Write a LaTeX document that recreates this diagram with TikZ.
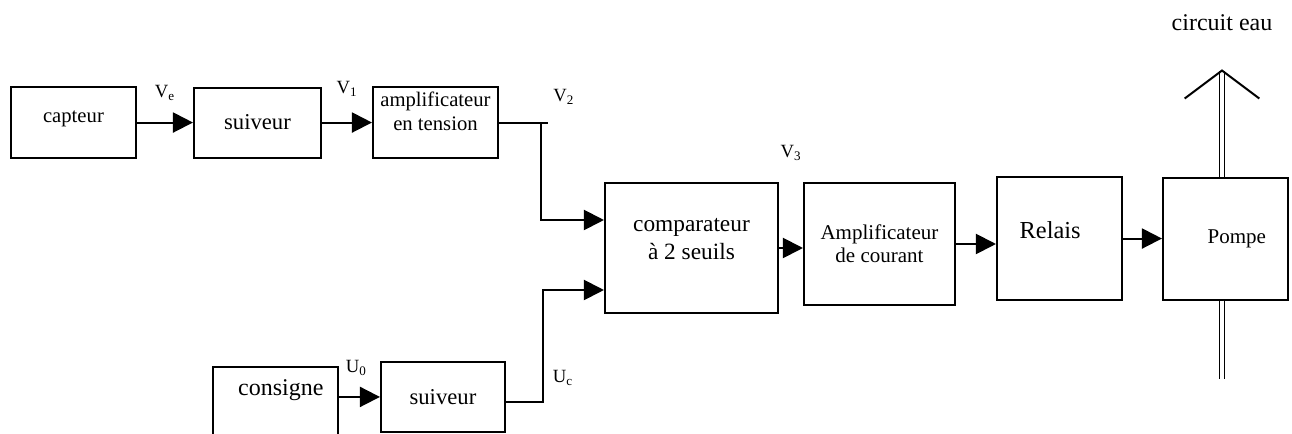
\documentclass[tikz,border=0pt]{standalone}
\usepackage{fontspec}
\setmainfont{Liberation Serif}
\usetikzlibrary{arrows.meta}
\tikzstyle{block} = [rectangle, draw, line width=1.5pt, align=center, inner sep=0pt]
\tikzstyle{line} = [draw, line width=1.5pt, -{Triangle[length=15pt,width=15pt]}]
\tikzstyle{wire} = [draw, line width=1.5pt]
\tikzstyle{sig} = [font=\fontsize{14}{16}\selectfont, inner sep=0pt]
\tikzstyle{pipe} = [draw, double, line width=1.1pt, double distance=2.5pt]

\begin{document}
\begin{tikzpicture}
    \useasboundingbox (0,0) rectangle (969pt,-325.5pt);
    % Place nodes
    \node [block, minimum width=93.75pt, minimum height=53.25pt, font=\fontsize{15.5}{18}\selectfont] (capteur) at (55.1pt,-91.9pt) {\raisebox{3pt}[\height][\depth]{capteur}};
    \node [block, node distance=138pt, right of=capteur, minimum width=95.25pt, minimum height=52.5pt, font=\fontsize{17}{20}\selectfont] (suiveur) {suiveur};
    \node [block, node distance=133.5pt, right of=suiveur, minimum width=93.75pt, minimum height=53.25pt, font=\fontsize{15.5}{18}\selectfont] (ampT) {\raisebox{6.75pt}[\height][\depth]{\begin{tabular}{@{}c@{}}amplificateur\\en tension\end{tabular}}};
    \node [block, node distance=192pt, right of=ampT, yshift=-94.1pt, minimum width=129.75pt, minimum height=97.5pt, font=\fontsize{17.5}{21}\selectfont] (comp) {\raisebox{6pt}[\height][\depth]{\begin{tabular}{@{}c@{}}comparateur\\à 2 seuils\end{tabular}}};
    \node [block, node distance=141pt, right of=comp, yshift=3pt, minimum width=113.25pt, minimum height=91.5pt, font=\fontsize{15.75}{17}\selectfont] (ampC) {Amplificateur\\de courant};
    \node [block, node distance=135pt, right of=ampC, yshift=4.1pt, minimum width=93.75pt, minimum height=92.25pt, font=\fontsize{18.3}{21}\selectfont] (relais) {\raisebox{6pt}[\height][\depth]{Relais}\hspace*{14pt}};
    \node [block, node distance=124.5pt, right of=relais, minimum width=93.75pt, minimum height=91.5pt, font=\fontsize{15.75}{18}\selectfont] (pompe) {\hspace*{17pt}Pompe};
    \node [block, node distance=210.7pt, below of=suiveur, xshift=13.5pt, minimum width=93.75pt, minimum height=55pt, font=\fontsize{18}{21}\selectfont] (consigne) {\hspace*{8pt}\raisebox{10pt}[\height][\depth]{consigne}};
    \node [block, node distance=125.6pt, right of=consigne, yshift=4.9pt, minimum width=93pt, minimum height=52.5pt, font=\fontsize{17}{20}\selectfont] (suiveurB) {suiveur};
    % Draw edges
    \path [line] (capteur) -- node [sig, yshift=22.5pt] (ve) {V\textsubscript{e}} (suiveur);
    \path [line] (suiveur) -- node [sig, yshift=25.5pt] (v1) {V\textsubscript{1}} (ampT);
    \coordinate (v2) at ([xshift=31.5pt]ampT.east);
    \path [wire] (ampT.east) -- ([xshift=5.25pt]v2);
    \node [sig] (v2lab) at ([xshift=17pt, yshift=19.5pt]v2) {V\textsubscript{2}};
    \path [line] (v2) |- ([yshift=21pt]comp.west);
    \coordinate (uc) at ([xshift=27.75pt, yshift=-3.75pt]suiveurB.east);
    \path [line] ([yshift=-3.75pt]suiveurB.east) -- (uc) |- ([yshift=-31.5pt]comp.west);
    \node [sig] (uclab) at ([xshift=15pt, yshift=18pt]uc) {U\textsubscript{c}};
    \path [line] (suiveurB.west -| consigne.east) -- node [sig, xshift=-2.5pt, yshift=22pt] (u0) {U\textsubscript{0}} (suiveurB.west);
    \path [line] (comp.east) -- node [sig, yshift=71.25pt] (v3) {V\textsubscript{3}} (comp.east -| ampC.west);
    \path [line] (ampC.east) -- (ampC.east -| relais.west);
    \path [line] (relais.east) -- (relais.east -| pompe.west);
    % water circuit
    \path [pipe] ([xshift=-2.6pt]pompe.north) -- ++(0,79.5pt) coordinate (tip);
    \path [wire] ([shift={(-28pt,-21pt)}]tip) -- (tip) -- ([shift={(28pt,-21pt)}]tip);
    \path [pipe] ([xshift=-2.6pt]pompe.south) -- ++(0,-58.5pt) coordinate (tail);
    \node [font=\fontsize{18}{21}\selectfont, inner sep=0pt] (eau) at ([yshift=36pt]tip) {circuit eau};
\end{tikzpicture}
\end{document}
